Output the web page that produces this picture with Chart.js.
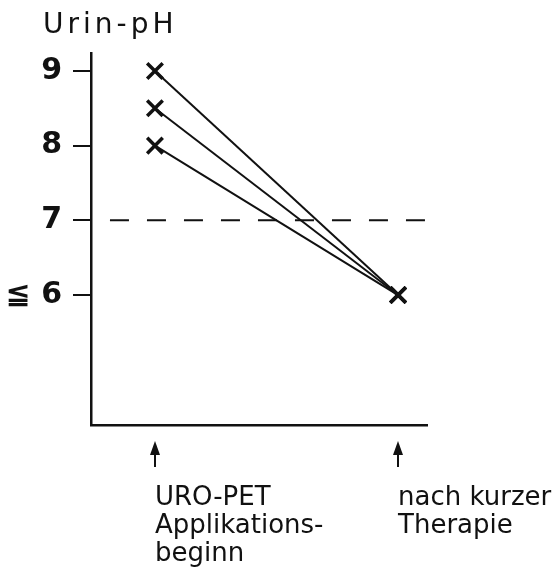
<!DOCTYPE html>
<html>
<head>
<meta charset="utf-8">
<script src="https://cdn.jsdelivr.net/npm/chart.js@4"></script>
<style>
  html, body { margin: 0; padding: 0; background: #fff; }
  #wrap { width: 554px; height: 572px; position: relative; }
</style>
</head>
<body>
<div id="wrap"><canvas id="chart"></canvas></div>
<script>
// stages on the x axis (0 = start, 1 = after short therapy)
const stages = [0, 1];
const stageLabels = [
    ['URO-PET', 'Applikations-', 'beginn'],
    ['nach kurzer', 'Therapie'],
];

// urine pH per patient
const startPH = [9, 8.5, 8];
const endPH = [6, 6, 6];

const thresholdPH = 7;
const thresholdFrom = -0.185;
const thresholdTo = 1.119;

const yTicks = [9, 8, 7, 6];
const yTickLabels = ['9', '8', '7', '\u2266 6'];

const FONT = "'DejaVu Sans', 'Liberation Sans', sans-serif";

const patientSets = startPH.map((ph, i) => ({
    data: [{ x: stages[0], y: ph }, { x: stages[1], y: endPH[i] }],
    borderColor: '#111',
    borderWidth: 2,
    pointStyle: 'crossRot',
    pointRadius: 11,
    pointBorderWidth: 3.5,
    pointBorderColor: '#111',
    showLine: true,
}));

const thresholdSet = {
    data: [{ x: thresholdFrom, y: thresholdPH }, { x: thresholdTo, y: thresholdPH }],
    borderColor: '#111',
    borderWidth: 2,
    borderDash: [19, 18],
    pointRadius: 0,
    showLine: true,
};

// title text and the small arrows under the x axis
const extras = {
    id: 'extras',
    afterDraw(chart) {
        const ctx = chart.ctx;
        const xs = chart.scales.x;
        ctx.save();
        ctx.fillStyle = '#111';
        ctx.font = '28px ' + FONT;
        ctx.textAlign = 'left';
        ctx.textBaseline = 'alphabetic';
        ctx.letterSpacing = '4px';
        ctx.fillText('Urin-pH', 43, 33);
        ctx.letterSpacing = '0px';

        ctx.strokeStyle = '#111';
        ctx.lineWidth = 2;
        stages.forEach(s => {
            const px = Math.round(xs.getPixelForValue(s));
            ctx.beginPath();
            ctx.moveTo(px, 467);
            ctx.lineTo(px, 450);
            ctx.stroke();
            ctx.beginPath();
            ctx.moveTo(px, 441);
            ctx.lineTo(px - 5, 455);
            ctx.lineTo(px + 5, 455);
            ctx.closePath();
            ctx.fill();
        });
        ctx.restore();
    }
};

new Chart(document.getElementById('chart'), {
    type: 'scatter',
    data: { datasets: [...patientSets, thresholdSet] },
    options: {
        responsive: true,
        maintainAspectRatio: false,
        animation: false,
        layout: { padding: { left: 0, right: 127, top: 53, bottom: 0 } },
        plugins: {
            legend: { display: false },
            tooltip: { enabled: false },
        },
        scales: {
            x: {
                type: 'linear',
                min: -0.263,
                max: 1.119,
                grid: { display: false },
                border: { display: true, color: '#111', width: 2.5 },
                afterBuildTicks: (scale) => {
                    scale.ticks = stages.map(v => ({ value: v }));
                },
                afterFit: (scale) => {
                    scale.height = 147;
                    scale.paddingLeft = 0;
                    scale.paddingRight = 0;
                },
                ticks: {
                    autoSkip: false,
                    maxRotation: 0,
                    align: 'start',
                    padding: 51,
                    color: '#111',
                    font: { family: FONT, size: 26, lineHeight: 1.08 },
                    callback: (v) => stageLabels[stages.indexOf(v)],
                },
            },
            y: {
                min: 4.26,
                max: 9.24,
                grid: {
                    drawOnChartArea: false,
                    drawTicks: true,
                    tickLength: 18,
                    lineWidth: 2,
                    color: '#111',
                },
                border: { display: true, color: '#111', width: 2.5 },
                afterBuildTicks: (scale) => {
                    scale.ticks = yTicks.map(v => ({ value: v }));
                },
                afterFit: (scale) => {
                    scale.width = 91;
                    scale.paddingTop = 0;
                    scale.paddingBottom = 0;
                },
                ticks: {
                    padding: 11,
                    color: '#111',
                    font: { family: FONT, size: 30, weight: 'bold' },
                    callback: (v) => yTickLabels[yTicks.indexOf(v)],
                },
            },
        },
    },
    plugins: [extras],
});
</script>
</body>
</html>
